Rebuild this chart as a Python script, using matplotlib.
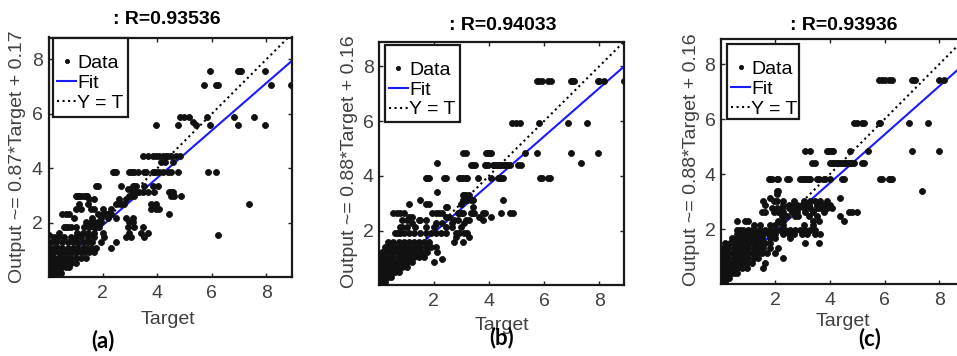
import matplotlib
matplotlib.use("Agg")
import matplotlib.pyplot as plt
from matplotlib.patches import Rectangle
import numpy as np

plt.rcParams.update({
    "font.family": ["Liberation Sans", "DejaVu Sans"],
    "font.size": 14,
})

W, H = 957, 356

# rows of (output level, [target values])
rows_a = [
    (7.59, [5.94, 6.96, 7.02, 7.08, 7.96]),
    (7.06, [5.73, 6.16, 6.22, 8.18, 8.89]),
    (5.90, [4.84, 4.97, 5.16, 5.81, 6.81, 7.55]),
    (5.70, [5.30]),
    (5.59, [3.96, 4.76, 5.43, 5.92, 6.96, 7.94]),
    (4.44, [3.47, 3.65, 3.83, 3.96, 4.08, 4.20, 4.33, 4.39, 4.51, 4.69, 4.82]),
    (4.22, [4.14, 4.27, 4.57]),
    (3.88, [2.37, 2.43, 2.49, 2.98, 3.04, 3.10, 3.16, 3.29, 3.53, 3.59, 3.84,
            3.90, 3.96, 4.08, 4.21, 4.39, 4.51, 4.76, 5.86, 6.17]),
    (3.37, [1.76, 1.82, 2.67, 3.10, 3.16, 3.22, 3.53, 3.84, 4.02]),
    (3.24, [2.92, 3.04, 3.16]),
    (3.12, [3.10, 3.35, 3.47, 3.65, 3.90, 4.45, 4.51, 4.57]),
    (3.00, [1.02, 1.08, 1.14, 1.21, 1.33, 1.39, 1.43, 2.98, 3.04, 3.16, 4.51, 4.63, 4.88]),
    (2.88, [1.51, 1.70, 2.61, 2.86]),
    (2.69, [1.14, 1.45, 2.49, 2.67, 2.80, 3.78, 3.96, 7.35]),
    (2.50, [1.02, 1.21, 1.57, 1.70, 2.00, 2.31, 3.78, 3.96, 4.08]),
    (2.33, [0.53, 0.65, 0.78, 1.82, 2.00, 2.12, 2.19, 2.31, 4.45]),
    (2.17, [0.96, 1.63, 1.94, 2.19, 2.49, 2.86, 3.10]),
    (2.02, [1.39, 1.57, 1.70, 1.82, 1.94, 2.98, 3.10]),
    (1.84, [0.59, 0.65, 0.72, 0.84, 1.02, 1.33, 1.51, 1.70, 1.88, 2.92, 3.16, 3.47]),
    (1.65, [0.41, 1.08, 1.27, 1.45, 1.70, 2.00, 2.98, 3.41, 3.65]),
    (1.55, [0.02, 6.24]),
    (1.47, [0.23, 0.35, 0.59, 0.84, 1.02, 1.21, 1.45, 1.70, 2.06, 2.86, 3.04, 3.53]),
    (1.29, [0.10, 0.29, 0.53, 0.72, 0.90, 1.08, 1.27, 1.45, 1.63, 1.94, 2.49]),
    (1.10, [0.04, 0.23, 0.35, 0.53, 0.72, 0.90, 1.08, 1.27, 1.39, 1.57, 1.76, 2.31]),
    (0.92, [0.02, 0.10, 0.23, 0.41, 0.53, 0.65, 0.84, 0.96, 1.08, 1.21, 1.33, 1.51, 1.70]),
    (0.73, [0.02, 0.10, 0.23, 0.35, 0.47, 0.59, 0.72, 0.84, 1.02, 1.21, 1.39]),
    (0.55, [0.02, 0.08, 0.20, 0.33, 0.45, 0.57, 0.69, 0.84, 1.02]),
    (0.37, [0.02, 0.08, 0.17, 0.29, 0.41, 0.53, 0.65, 0.78]),
    (0.18, [0.02, 0.04, 0.13, 0.23, 0.35, 0.47]),
    (0.06, [0.02, 0.04, 0.10, 0.20]),
]

rows_b = [
    (7.46, [5.73, 5.83, 5.92, 6.16, 6.25, 6.96, 7.02, 7.08, 7.94, 8.00, 8.18, 8.89]),
    (5.93, [4.82, 4.97, 5.12, 5.80, 6.86, 7.57]),
    (4.83, [3.07, 3.16, 3.90, 3.96, 4.02, 4.08, 5.30, 5.73, 6.96, 7.94]),
    (4.48, [2.12, 7.35]),
    (4.41, [3.35, 3.43, 3.51, 3.84, 3.90, 3.96, 4.14, 4.20, 4.27, 4.33, 4.39, 4.45,
            4.51, 4.57, 4.63, 4.69, 4.76, 5.06, 5.15]),
    (3.93, [1.70, 1.76, 1.82, 2.37, 2.43, 2.92, 2.98, 3.04, 3.16, 3.22, 3.59, 4.08,
            4.33, 4.39, 4.45, 4.51, 5.86, 5.92, 6.16, 6.22]),
    (3.40, [2.12]),
    (3.28, [3.04, 3.10, 3.16, 3.29]),
    (3.10, [1.51, 3.04, 3.10, 3.16, 3.22, 3.35, 3.41, 4.51]),
    (2.98, [1.08, 1.70, 1.82, 2.98]),
    (2.85, [2.43, 2.49, 3.41]),
    (2.63, [0.53, 0.65, 0.78, 0.90, 1.94, 2.06, 2.19, 2.31, 2.86, 2.92, 2.98, 3.04,
            3.35, 3.41, 3.47, 3.78, 3.84, 4.45, 4.76, 4.88]),
    (2.49, [1.08, 1.21, 2.43, 2.55, 3.65, 4.08]),
    (2.37, [0.84, 1.02, 1.45, 1.51, 1.70, 2.73, 2.86, 3.16, 3.29, 3.78]),
    (2.27, [1.21, 2.06, 2.31, 2.67, 3.10]),
    (2.12, [0.78, 0.84, 1.02, 1.33, 1.70, 2.00, 2.43, 2.67, 2.98]),
    (1.90, [0.59, 0.65, 0.72, 0.78, 0.90, 1.08, 1.27, 1.51, 1.70, 1.88, 2.06, 2.25,
            2.43, 2.80, 2.92, 3.10, 3.22]),
    (1.76, [2.80, 3.29]),
    (1.57, [0.35, 0.53, 0.72, 0.90, 1.08, 1.27, 1.45, 1.63, 1.82, 2.73, 3.04]),
    (1.39, [0.23, 0.41, 0.59, 0.78, 0.96, 1.14, 1.33, 1.51, 1.70, 1.88, 2.06]),
    (1.21, [0.10, 0.29, 0.47, 0.65, 0.84, 1.02, 1.21, 1.39, 1.57, 1.76, 2.12]),
    (1.02, [0.04, 0.17, 0.35, 0.53, 0.72, 0.90, 1.08, 1.27, 1.45, 1.63]),
    (0.96, [2.31]),
    (0.84, [0.04, 0.17, 0.29, 0.41, 0.53, 0.65, 0.78, 0.90, 1.02, 1.21, 2.00]),
    (0.66, [0.02, 0.10, 0.23, 0.35, 0.47, 0.59, 0.72, 0.84, 1.02]),
    (0.48, [0.02, 0.10, 0.20, 0.30, 0.40, 0.50, 0.59, 0.72]),
    (0.29, [0.02, 0.08, 0.17, 0.25, 0.35, 0.45]),
    (0.11, [0.02, 0.05, 0.10, 0.17, 0.23]),
]

rows_c = [
    (7.42, [5.78, 5.90, 6.02, 6.15, 6.27, 7.00, 7.06, 7.12, 7.98, 8.16]),
    (5.87, [4.87, 4.99, 5.17, 5.23, 5.78, 5.84, 6.88, 7.57]),
    (4.84, [3.10, 3.28, 3.89, 3.95, 4.01, 4.07, 4.13, 4.74, 5.41, 7.00, 7.98]),
    (4.41, [3.34, 3.46, 4.01, 4.07, 4.13, 4.19, 4.25, 4.31, 4.38, 4.44, 4.50, 4.56,
            4.62, 4.68, 4.74, 4.80, 4.87, 5.17, 5.23]),
    (3.83, [1.76, 1.82, 1.88, 2.06, 2.12, 2.43, 2.49, 2.91, 2.98, 3.04, 3.10, 3.16,
            3.22, 3.28, 3.52, 3.59, 3.77, 3.83, 4.01, 4.44, 4.50, 5.84, 5.90, 6.15,
            6.21, 6.27]),
    (3.40, [2.06, 2.12, 7.37]),
    (3.26, [2.06]),
    (3.13, [1.82, 4.38]),
    (3.01, [1.57, 1.94, 2.06, 2.30, 2.67, 3.04, 3.28, 3.46, 3.65, 3.89]),
    (2.89, [1.63, 2.30, 2.49, 2.67, 2.79, 2.98, 3.10, 3.22, 3.52, 3.77, 4.01]),
    (2.77, [1.88, 2.06, 2.24, 2.49, 2.67, 2.85, 3.04, 3.28, 3.52, 3.65, 3.89, 4.07]),
    (2.62, [1.51, 1.63, 1.94, 2.12, 2.30, 2.61, 2.79, 3.10, 3.40, 3.77, 4.68, 4.80, 4.99]),
    (2.47, [2.24, 2.43, 2.73, 2.85, 3.22, 3.52, 4.38]),
    (2.31, [0.60, 0.90, 1.02, 2.12, 2.30, 3.40, 3.59, 4.50]),
    (2.16, [1.21, 1.45, 1.82, 2.00, 2.30, 3.04, 3.40]),
    (1.98, [0.60, 0.72, 0.84, 1.02, 1.15, 1.27, 1.45, 1.63, 1.82, 2.00, 2.18, 2.37,
            2.55, 2.73, 2.91, 3.10, 3.28, 3.46]),
    (1.82, [0.60, 0.78, 1.02, 1.21, 1.39, 1.57, 1.76, 2.00, 2.30, 2.49, 2.67, 2.98,
            3.16, 3.46, 3.65]),
    (1.68, [0.41, 0.60, 0.78, 0.96, 1.15, 1.33, 1.51, 1.82, 2.00, 2.55]),
    (1.49, [0.17, 0.35, 0.54, 0.72, 0.90, 1.08, 1.27, 1.45, 1.63, 1.82, 3.10, 3.59]),
    (1.31, [0.11, 0.29, 0.48, 0.66, 0.84, 1.02, 1.21, 1.39, 1.57, 1.82, 2.12]),
    (1.13, [0.05, 0.23, 0.41, 0.60, 0.78, 0.96, 1.15, 1.33, 1.51, 1.70, 2.00]),
    (0.95, [0.05, 0.17, 0.29, 0.48, 0.66, 0.84, 1.02, 1.21, 1.39, 2.30]),
    (0.77, [0.05, 0.17, 0.29, 0.41, 0.54, 0.66, 0.78, 0.96, 1.15, 1.63]),
    (0.58, [0.02, 0.13, 0.26, 0.38, 0.50, 0.62, 0.78, 0.96, 1.57]),
    (0.40, [0.02, 0.11, 0.21, 0.30, 0.40, 0.50, 0.60]),
    (0.22, [0.02, 0.09, 0.16, 0.23, 0.33]),
    (0.07, [0.02, 0.06, 0.11, 0.17]),
]

slopes = [0.87, 0.88, 0.88]
intercepts = [0.17, 0.16, 0.16]
r_values = ["0.93536", "0.94033", "0.93936"]
panel_tags = ["(a)", "(b)", "(c)"]


def flatten(rows):
    t = [x for y, xs in rows for x in xs]
    o = [y for y, xs in rows for _ in xs]
    return np.array(t), np.array(o)


def px_rect(l, r, t, b):
    return [l / W, 1 - b / H, (r - l) / W, (b - t) / H]


# layout in pixels: axes (left, right, top, bottom), legend box, text anchors
layout = [
    dict(rect=(48.5, 292, 37.5, 277), xmax=8.94, ymax=8.8,
         legbox=(53.3, 127.7, 38.3, 116.7),
         title=(167, 20), xlab=(168, 319), ylab=(18, 157), tag=(103, 341)),
    dict(rect=(379.3, 624, 41.7, 284.7), xmax=8.9, ymax=8.9,
         legbox=(385, 459.5, 45, 122),
         title=(503, 25), xlab=(502, 325), ylab=(350, 162), tag=(502, 338)),
    dict(rect=(721, 964, 39.3, 283.6), xmax=8.9, ymax=8.9,
         legbox=(727.3, 799, 44.3, 119),
         title=(844, 25), xlab=(843, 322), ylab=(692, 160), tag=(870, 339)),
]

TXT = "#404040"
EDGE = "#1a1a1a"

fig = plt.figure(figsize=(W / 100, H / 100), dpi=100)

for rows, m, c, r, tag, lay in zip([rows_a, rows_b, rows_c], slopes, intercepts,
                                   r_values, panel_tags, layout):
    ax = fig.add_axes(px_rect(*lay["rect"]))
    t, o = flatten(rows)
    xs = np.array([0.0, lay["xmax"]])
    ax.plot(t, o, "o", color="#111111", ms=4.3, mew=0.6, label="Data", zorder=3)
    ax.plot(xs, m * xs + c, "-", color="#1a1aff", lw=1.5, label="Fit", zorder=2)
    ax.plot(xs, xs, ":", color="black", lw=1.5, label="Y = T", zorder=2)
    ax.set_xlim(0.02, lay["xmax"])
    ax.set_ylim(0.02, lay["ymax"])
    ax.set_xticks([2, 4, 6, 8])
    ax.set_yticks([2, 4, 6, 8])
    ax.tick_params(direction="in", length=3, width=1, top=True, right=True,
                   labelsize=14, colors="#222222", labelcolor=TXT)
    ax.tick_params(axis="x", pad=6)
    ax.tick_params(axis="y", pad=4)
    for s in ax.spines.values():
        s.set_linewidth(1.6)
        s.set_color(EDGE)

    # MATLAB-style legend: square frame with extra room above the entries
    bl, br, bt, bb = lay["legbox"]
    fig.add_artist(Rectangle((bl / W, 1 - bb / H), (br - bl) / W, (bb - bt) / H,
                             transform=fig.transFigure, facecolor="white",
                             edgecolor=EDGE, lw=1.6, zorder=4))
    handles, labels = ax.get_legend_handles_labels()
    leg = fig.legend(handles, labels, loc="upper left",
                     bbox_to_anchor=((bl + 3.5) / W, 1 - (bt + 16) / H),
                     borderaxespad=0, borderpad=0, frameon=False,
                     handlelength=1.0, handletextpad=0.05, labelspacing=0.12,
                     fontsize=14, markerscale=0.7)
    leg.set_zorder(5)

    fig.text(lay["title"][0] / W, 1 - lay["title"][1] / H, ": R=" + r,
             ha="center", va="center", fontsize=14, fontweight="bold")
    fig.text(lay["xlab"][0] / W, 1 - lay["xlab"][1] / H, "Target",
             ha="center", va="center", fontsize=14, color=TXT)
    fig.text(lay["ylab"][0] / W, 1 - lay["ylab"][1] / H,
             f"Output ~= {m:.2f}*Target + {c:.2f}", rotation=90,
             ha="center", va="center", fontsize=14, color=TXT)
    fig.text(lay["tag"][0] / W, 1 - lay["tag"][1] / H, tag,
             ha="center", va="center", fontsize=16, fontweight="bold",
             family=["Lato", "DejaVu Sans"])

fig.savefig("out.png", dpi=100)
